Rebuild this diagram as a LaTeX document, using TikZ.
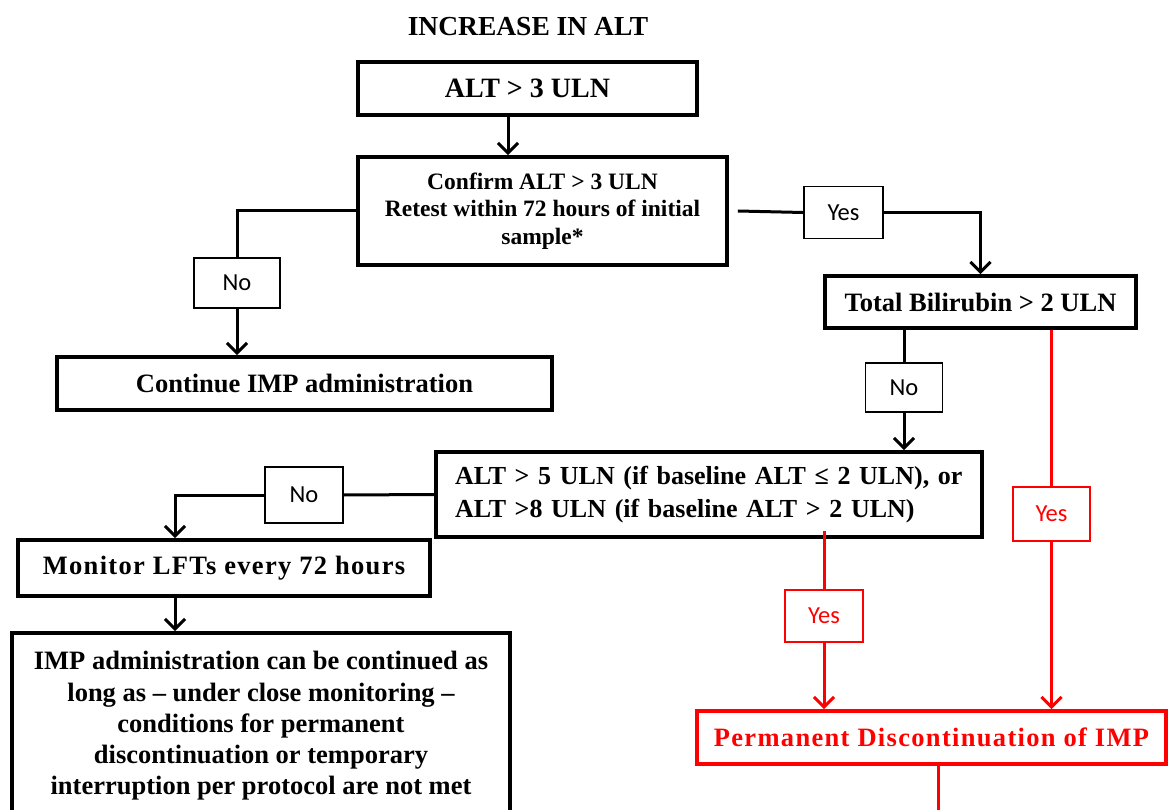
\documentclass[tikz,border=0pt]{standalone}
\usepackage{fontspec}
\setmainfont{Liberation Serif}
\newfontfamily\labfont{Carlito}
\newfontfamily\widefont[LetterSpace=5]{Liberation Serif}
\usetikzlibrary{arrows.meta,calc}
\definecolor{redc}{RGB}{255,0,0}
\begin{document}
\begin{tikzpicture}[x=1pt,y=-1pt,
  box/.style={draw, line width=3.8pt, inner sep=0pt, align=center,
    font=\bfseries\fontsize{26.5}{31}\selectfont},
  lab/.style={draw, line width=1.8pt, inner sep=0pt, align=center,
    font=\labfont\fontsize{24.5}{28}\selectfont},
  rlab/.style={lab, draw=redc, text=redc},
  conn/.style={line width=3pt},
  arr/.style={conn, -{Straight Barb[length=10pt,width=20pt]}},
  rconn/.style={conn, draw=redc},
  rarr/.style={arr, draw=redc}
]
\useasboundingbox (0,0) rectangle (1168,810);

% title
\node[font=\bfseries\fontsize{27.5}{31}\selectfont] (title) at (528,27) {INCREASE IN ALT};

% boxes
\node[box, minimum width=339pt, minimum height=53pt, font=\bfseries\fontsize{28}{32}\selectfont] (b1) at (527.5,88.5) {ALT > 3 ULN};
\node[box, minimum width=369pt, minimum height=108pt, font=\bfseries\fontsize{23.5}{27.5}\selectfont] (b2) at (542.5,211)
  {Confirm ALT > 3 ULN\\Retest within 72 hours of initial\\sample*};
\node[box, minimum width=495pt, minimum height=53pt] (cont) at (304.5,383.5) {Continue IMP administration};
\node[box, minimum width=311pt, minimum height=52pt] (bili) at (980.5,302) {Total Bilirubin > 2 ULN};
\node[box, minimum width=546pt, minimum height=85pt, text width=508pt, align=left, font=\bfseries\fontsize{26}{33}\selectfont] (alt5) at (709,494.5)
  {\mbox{ALT > 5 ULN (if baseline ALT ≤ 2 ULN), or}\\\mbox{ALT >8 ULN (if baseline ALT > 2 ULN)}};
\node[box, minimum width=412pt, minimum height=56pt, font=\widefont\bfseries\fontsize{26.5}{31}\selectfont] (mon) at (224,568) {Monitor LFTs every 72 hours};
\node[box, minimum width=498pt, minimum height=186pt, font=\bfseries\fontsize{26.5}{31.3}\selectfont] (imp) at (261,726)
  {IMP administration can be continued as\\long as -- under close monitoring --\\conditions for permanent\\discontinuation or temporary\\interruption per protocol are not met};
\node[box, draw=redc, text=redc, minimum width=469pt, minimum height=53pt, font=\widefont\bfseries\fontsize{26.5}{31}\selectfont] (perm) at (931.5,737.5) {Permanent Discontinuation of IMP};

% labels
\node[lab, minimum width=86pt, minimum height=50pt] (noA) at (237,283) {No};
\node[lab, minimum width=79pt, minimum height=52pt] (yesA) at (843.5,212.5) {Yes};
\node[lab, minimum width=77pt, minimum height=49pt] (noB) at (904,387.5) {No};
\node[lab, minimum width=78pt, minimum height=56pt] (noC) at (304,495) {No};
\node[rlab, minimum width=78pt, minimum height=52pt] (yesB) at (824,616) {Yes};
\node[rlab, minimum width=77pt, minimum height=54pt] (yesC) at (1051.5,514) {Yes};

\coordinate (pend) at (938,815);

% connectors
\draw[arr] ([xshift=-19.5pt]b1.south) -- ([xshift=-19.5pt]b1.south |- b2.north);
\draw[conn] (b2.west) -| (noA.north);
\draw[arr] (noA.south) -- (noA.south |- cont.north);
\draw[conn] ([xshift=9pt]b2.east) -- (yesA.west);
\draw[arr] (yesA.east) -| (bili.north);
\draw[conn] (noB.north |- bili.south) -- (noB.north);
\draw[arr] (noB.south) -- (noB.south |- alt5.north);
\draw[conn] (alt5.west) -- (noC.east);
\draw[arr] (noC.west) -| ([xshift=-49pt]mon.north);
\draw[arr] ([xshift=-49pt]mon.south) -- ([xshift=-49pt]mon.south |- imp.north);
\draw[rconn] (yesC.north |- bili.south) -- (yesC.north);
\draw[rarr] (yesC.south) -- (yesC.south |- perm.north);
\draw[rconn] ([yshift=8pt]yesB.north |- alt5.south) -- (yesB.north);
\draw[rarr] (yesB.south) -- (yesB.south |- perm.north);
\draw[rconn] ([xshift=6.5pt]perm.south) -- ([xshift=6.5pt]perm.south |- pend);
\end{tikzpicture}
\end{document}
